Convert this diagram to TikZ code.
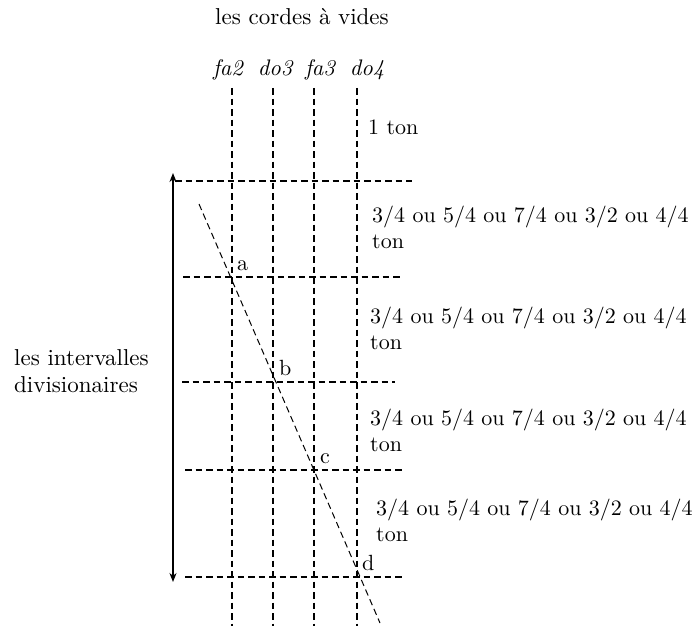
\documentclass[tikz,border=0pt]{standalone}
\usepackage{fontspec}
\setmainfont{lmroman10-regular.otf}[ItalicFont=lmroman10-italic.otf]
\usetikzlibrary{arrows.meta}
\begin{document}
\begin{tikzpicture}[x=1pt,y=-1pt,
  txt/.style={inner sep=0pt,anchor=base west,font=\fontsize{22}{26}\selectfont},
  note/.style={txt,align=left},
  lbl/.style={inner sep=0pt,anchor=base west,font=\fontsize{22}{26}\selectfont},
  str/.style={inner sep=0pt,anchor=base,font=\fontsize{22.5}{26}\selectfont\itshape},
  grid/.style={line width=1.1pt,dash pattern=on 6.5pt off 4pt},
  diag/.style={line width=1pt,dash pattern=on 6.5pt off 4pt},
  dbl/.style={line width=1.5pt,{Stealth[length=9pt,width=7pt]}-{Stealth[length=9pt,width=7pt]}}]
\useasboundingbox (0,0) rectangle (699,626);
% title and string names
\node[inner sep=0pt,anchor=base,font=\fontsize{23}{26}\selectfont] (title) at (302,25) {les cordes à vides};
\node[str] (fa2) at (228,76) {fa2};
\node[str] (do3) at (275,76) {do3};
\node[str] (fa3) at (320,76) {fa3};
\node[str] (do4) at (367,76) {do4};
% vertical strings
\foreach \n/\x in {s1/232,s2/273,s3/314,s4/357}{
  \coordinate (\n t) at (\x,88);
  \coordinate (\n b) at (\x,626);
  \draw[grid] (\n t) -- (\n b);
}
% horizontal lines
\coordinate (h1l) at (175,181); \coordinate (h1r) at (412,181);
\coordinate (h2l) at (183,277); \coordinate (h2r) at (400,277);
\coordinate (h3l) at (182,382); \coordinate (h3r) at (395,382);
\coordinate (h4l) at (185,470); \coordinate (h4r) at (402,470);
\coordinate (h5l) at (185,577); \coordinate (h5r) at (402,577);
\foreach \h in {h1,h2,h3,h4,h5}{\draw[grid] (\h l) -- (\h r);}
% double arrow
\coordinate (at) at (173,173);
\coordinate (ab) at (173,582);
\draw[dbl] (at) -- (ab);
% diagonal
\coordinate (ds) at (199,204);
\coordinate (de) at (380,623);
\draw[diag] (ds) -- (de);
% point labels
\node[lbl] (a) at (237,270) {a};
\node[lbl] (b) at (279,375) {b};
\node[lbl] (c) at (320,463) {c};
\node[lbl] (d) at (362,570) {d};
% interval labels
\node[txt] (t0) at (368,134) {1 ton};
\node[note] (t1) at (372,248) {3/4 ou 5/4 ou 7/4 ou 3/2 ou 4/4\\ton};
\node[note] (t2) at (370,349) {3/4 ou 5/4 ou 7/4 ou 3/2 ou 4/4\\ton};
\node[note] (t3) at (370,451) {3/4 ou 5/4 ou 7/4 ou 3/2 ou 4/4\\ton};
\node[note] (t4) at (376,541) {3/4 ou 5/4 ou 7/4 ou 3/2 ou 4/4\\ton};
\node[note,font=\fontsize{23}{27}\selectfont] (left) at (14,392) {les intervalles\\divisionaires};
\end{tikzpicture}
\end{document}
